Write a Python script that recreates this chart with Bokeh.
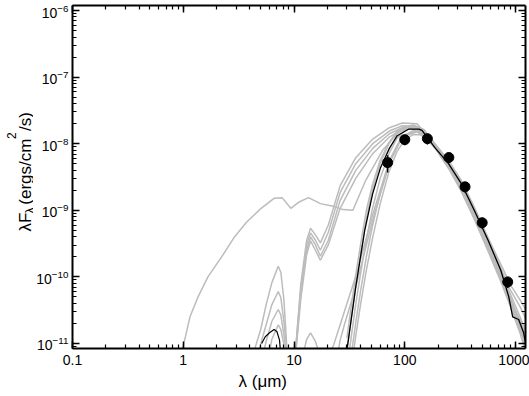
import math
import numpy as np
from bokeh.plotting import figure
from bokeh.layouts import row
from bokeh.models import LogAxis, LogTicker, CustomJSTickFormatter, Range1d, Title
from bokeh.core.properties import value
from bokeh.embed import file_html
from bokeh.resources import INLINE

# ---------------- data ----------------
x_limits = (0.1, 1230.0)          # wavelength, micron
y_limits = (8.4e-12, 1.19e-6)     # lambda F_lambda, erg/cm2/s

obs_wavelength = [70, 100, 160, 250, 350, 500, 850]
obs_flux = [5.2e-9, 1.15e-8, 1.19e-8, 6.2e-9, 2.25e-9, 6.5e-10, 8.4e-11]
obs_err = [1.5e-9, 2.0e-9, 2.2e-9, 1.1e-9, 4.0e-10, 1.2e-10, 1.6e-11]

best_wav = [27, 30.1, 36.1, 43.5, 51.3, 60.4, 72.6, 85.5, 109, 134, 143, 187, 248, 324,
            424, 565, 736, 869, 942, 1067, 1183, 1300]
best_logf = [-11.6, -11.09, -10.15, -9.30, -8.75, -8.36, -8.07, -7.88, -7.78, -7.78, -7.80,
             -8.06, -8.30, -8.60, -9.0, -9.45, -9.90, -10.30, -10.6, -10.64, -10.84, -11.2]
best_nir_wav = [5.1, 5.5, 6.1, 6.6, 7.0, 7.4, 7.7]
best_nir_logf = [-11.0, -10.90, -10.83, -10.79, -10.82, -10.95, -11.3]

wide_wav = [0.96, 1.0, 1.15, 1.36, 1.67, 2.22, 2.90, 3.72, 5.05, 6.6, 7.8, 9.35, 11.0, 13.5,
            17.3, 22.6, 27.7, 34.0, 44.4, 63, 85.5, 109, 150, 190, 250, 320, 420, 560, 740,
            900, 1100, 1300]
wide_logf = [-11.2, -11.04, -10.60, -10.30, -10.0, -9.70, -9.40, -9.18, -8.97, -8.82, -8.81,
             -8.97, -8.88, -8.81, -8.90, -8.94, -8.99, -9.0, -8.55, -8.1, -7.85, -7.75, -7.80,
             -8.02, -8.28, -8.57, -8.97, -9.42, -9.88, -10.2, -10.45, -10.7]

sil_wav = [4.0, 4.5, 5.0, 5.6, 6.3, 7.2, 7.6, 8.1, 8.6, 9.7, 10.4, 11.5, 13.0, 14.1, 15.6,
           17.3, 20.4, 26.1, 36.1, 51.3, 72.6, 95, 129, 187, 248, 324, 424, 565, 736, 869,
           1067, 1300]
sil1_logf = [-11.3, -11.04, -10.79, -10.42, -10.09, -9.84, -9.93, -10.34, -11.04, -11.6, -11.04,
             -10.12, -9.45, -9.27, -9.37, -9.49, -9.22, -8.63, -8.21, -7.93, -7.76, -7.69,
             -7.70, -8.00, -8.25, -8.55, -8.95, -9.42, -9.88, -10.2, -10.55, -10.9]
sil2_logf = [-11.5, -11.3, -11.01, -10.72, -10.42, -10.22, -10.31, -10.67, -11.09, -11.6, -11.04,
             -10.19, -9.52, -9.34, -9.45, -9.60, -9.33, -8.73, -8.30, -8.00, -7.81, -7.73,
             -7.75, -8.02, -8.28, -8.58, -8.99, -9.46, -9.92, -10.25, -10.62, -10.95]
sil3_logf = [-11.8, -11.6, -11.3, -10.97, -10.67, -10.49, -10.57, -10.87, -11.16, -11.6, -11.09,
             -10.27, -9.60, -9.40, -9.52, -9.69, -9.45, -8.85, -8.40, -8.07, -7.85, -7.76,
             -7.76, -8.04, -8.30, -8.62, -9.03, -9.50, -9.96, -10.3, -10.68, -11.05]
sil4_logf = [-12.0, -11.8, -11.6, -11.4, -10.94, -10.72, -10.79, -11.01, -11.4, -11.7, -11.12,
             -10.34, -9.67, -9.46, -9.60, -9.75, -9.52, -8.97, -8.52, -8.15, -7.90, -7.78,
             -7.78, -8.06, -8.33, -8.65, -9.06, -9.53, -10.0, -10.33, -10.72, -11.1]

faint_wav = [10.4, 11.5, 13.0, 14.1, 15.6, 17.3, 20.4, 22.6, 26.1, 28.5, 36.1, 51.3, 72.6, 95,
             129, 187, 248, 324, 424, 565, 736, 869, 1067, 1300]
faint_logf = [-11.8, -11.3, -10.94, -10.84, -10.97, -11.2, -11.15, -11.04, -10.72, -10.52, -9.99,
              -9.07, -8.25, -7.88, -7.81, -8.03, -8.30, -8.62, -9.05, -9.52, -9.98, -10.3,
              -10.7, -11.05]

cold_wav = [24.5, 26.1, 28.5, 36.1, 51.3, 72.6, 95, 129, 187, 248, 324, 424, 565, 736, 869,
            1067, 1300]
cold_logf = [-11.2, -10.95, -10.72, -10.15, -9.15, -8.30, -7.90, -7.82, -8.05, -8.33, -8.66,
             -9.08, -9.56, -10.02, -10.35, -10.6, -10.85]

bundle_wav = [30, 33, 36, 40, 45, 51, 60, 72, 85, 100, 120, 150, 190, 250, 320, 420, 560, 740,
              900, 1100, 1300]
bundle1_logf = [-11.1, -10.6, -10.14, -9.64, -9.12, -8.70, -8.30, -8.0, -7.82, -7.74, -7.72,
                -7.79, -8.06, -8.34, -8.63, -9.04, -9.50, -9.97, -10.32, -10.72, -11.1]
bundle2_logf = [-11.4, -10.88, -10.42, -9.94, -9.44, -8.98, -8.52, -8.15, -7.92, -7.80, -7.75,
                -7.80, -8.03, -8.33, -8.64, -9.06, -9.53, -10.0, -10.35, -10.75, -11.15]
bundle3_logf = [-11.7, -11.15, -10.7, -10.2, -9.70, -9.24, -8.74, -8.30, -8.03, -7.87, -7.80,
                -7.83, -8.05, -8.36, -8.68, -9.1, -9.57, -10.05, -10.4, -10.8, -11.2]
bundle4_logf = [-11.9, -11.35, -10.9, -10.4, -9.90, -9.43, -8.9, -8.42, -8.12, -7.94, -7.86,
                -7.87, -8.08, -8.38, -8.70, -9.12, -9.60, -10.08, -10.45, -10.85, -11.25]
bundle5_logf = [-10.92, -10.42, -9.98, -9.5, -9.0, -8.62, -8.25, -7.98, -7.82, -7.76, -7.76,
                -7.82, -8.05, -8.30, -8.58, -8.96, -9.40, -9.82, -10.12, -10.35, -10.55]

gray_models = [
    (wide_wav, wide_logf),
    (sil_wav, sil1_logf), (sil_wav, sil2_logf), (sil_wav, sil3_logf), (sil_wav, sil4_logf),
    (faint_wav, faint_logf), (cold_wav, cold_logf),
    (bundle_wav, bundle1_logf), (bundle_wav, bundle2_logf), (bundle_wav, bundle3_logf),
    (bundle_wav, bundle4_logf), (bundle_wav, bundle5_logf),
]

x_title = "λ (μm)"
y_title_parts = ["λF", "λ", "(ergs/cm", "2", "/s)"]   # main, subscript, main, superscript, main

# ---------------- main figure ----------------
FONT = "Liberation Sans"
p = figure(width=496, height=396, x_axis_type="log", y_axis_type="log",
           x_range=Range1d(*x_limits), y_range=Range1d(*y_limits),
           output_backend="svg", toolbar_location=None,
           min_border_left=34, min_border_right=4, min_border_top=5, min_border_bottom=48)
p.outline_line_color = None
p.xgrid.visible = False
p.ygrid.visible = False
p.background_fill_color = "white"
p.border_fill_color = "white"


def style_axis(ax, show_labels=True):
    ax.axis_line_color = "black"
    ax.axis_line_width = 2
    ax.major_tick_in = 7
    ax.major_tick_out = 0
    ax.minor_tick_in = 4
    ax.minor_tick_out = 0
    ax.major_tick_line_color = "black"
    ax.minor_tick_line_color = "black"
    ax.major_tick_line_width = 1.5
    ax.minor_tick_line_width = 1.2
    ax.major_label_text_font = FONT
    ax.major_label_text_font_size = "14px"
    ax.major_label_text_color = "black"
    if not show_labels:
        ax.formatter = CustomJSTickFormatter(code="return ''")
        ax.major_label_text_font_size = "0px"
        ax.major_label_standoff = 0


xax = p.xaxis[0]
yax = p.yaxis[0]
xax.ticker = LogTicker(num_minor_ticks=10)
yax.ticker = LogTicker(num_minor_ticks=10)
style_axis(xax)
style_axis(yax)
xax.major_label_standoff = 6
yax.major_label_standoff = 4
xax.formatter = CustomJSTickFormatter(code="return tick < 1 ? tick.toFixed(1) : tick.toFixed(0);")

top = LogAxis(ticker=LogTicker(num_minor_ticks=10))
right = LogAxis(ticker=LogTicker(num_minor_ticks=10))
style_axis(top, False)
style_axis(right, False)
p.add_layout(top, "above")
p.add_layout(right, "right")

p.add_layout(Title(text=x_title, align="left", offset=166, standoff=4,
                   text_font=FONT, text_font_size="17px", text_font_style="normal",
                   text_color="black"), "below")

gray = "#bcbcbc"
for wav, logf in gray_models:
    p.line(wav, 10 ** np.array(logf), line_color=gray, line_width=1.5)

p.line(best_wav, 10 ** np.array(best_logf), line_color="black", line_width=1.3)
p.line(best_nir_wav, 10 ** np.array(best_nir_logf), line_color="black", line_width=1.2)

lo = [f - e for f, e in zip(obs_flux, obs_err)]
hi = [f + e for f, e in zip(obs_flux, obs_err)]
p.segment(x0=obs_wavelength, y0=lo, x1=obs_wavelength, y1=hi, line_color="black", line_width=1.5)
p.scatter(obs_wavelength, obs_flux, size=10, marker="circle", fill_color="black", line_color="black")

# ---------------- y title strip (rotated text with sub/superscript) ----------------
H = 396
W_LAB = 33
lab = figure(width=W_LAB, height=H, x_range=Range1d(0, W_LAB), y_range=Range1d(0, H),
             output_backend="svg", toolbar_location=None, min_border=0,
             x_axis_location=None, y_axis_location=None)
lab.outline_line_color = None
lab.grid.visible = False
lab.background_fill_color = "white"
lab.border_fill_color = "white"

lab.text(x=[25, 25, 25], y=[H - 261, H - 230, H - 145],
         text=[y_title_parts[0], y_title_parts[2], y_title_parts[4]],
         angle=math.pi / 2, text_font=value(FONT), text_font_size=value("17px"),
         text_align="left", text_baseline="alphabetic", text_color="black")
lab.text(x=[29, 11], y=[H - 240, H - 154], text=[y_title_parts[1], y_title_parts[3]],
         angle=math.pi / 2, text_font=value(FONT), text_font_size=value("12px"),
         text_align="left", text_baseline="alphabetic", text_color="black")

layout = row(lab, p, spacing=0)
open("out.html", "w").write(file_html(layout, INLINE))
